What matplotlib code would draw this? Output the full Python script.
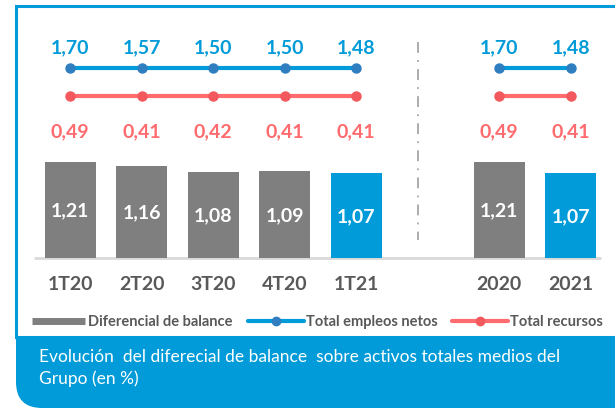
import matplotlib
matplotlib.use("Agg")
import matplotlib.pyplot as plt
import numpy as np
from matplotlib.patches import FancyBboxPatch, Rectangle
from matplotlib.lines import Line2D
from matplotlib.transforms import IdentityTransform

plt.rcParams['font.family'] = ['Lato', 'DejaVu Sans']

categories = ["1T20", "2T20", "3T20", "4T20", "1T21", "2020", "2021"]
positions = [0, 1, 2, 3, 4, 6, 7]
diferencial = [1.21, 1.16, 1.08, 1.09, 1.07, 1.21, 1.07]
empleos = [1.70, 1.57, 1.50, 1.50, 1.48, 1.70, 1.48]
recursos = [0.49, 0.41, 0.42, 0.41, 0.41, 0.49, 0.41]
caption = "Evolución  del diferecial de balance  sobre activos totales medios del\nGrupo (en %)"

GRAY = "#7F7F7F"
BLUE = "#009BD8"
RED = "#FF6B6E"
TXT = "#595959"
bar_colors = [GRAY, GRAY, GRAY, GRAY, BLUE, GRAY, BLUE]

W, H = 615, 410
fig = plt.figure(figsize=(W / 100, H / 100), dpi=100)

# caption band (pixel coords, origin bottom-left) + frame
band = FancyBboxPatch((16, 1), W + 40 - 16, 110,
                      boxstyle="round,pad=0,rounding_size=26", transform=IdentityTransform(),
                      facecolor=BLUE, edgecolor='none', zorder=-2)
fig.patches.append(band)
frame = Rectangle((16, H - 338), W - 16 + 5, 338 - 7, transform=IdentityTransform(),
                  facecolor='white', edgecolor=BLUE, linewidth=2.2, zorder=-1)
fig.patches.append(frame)

ax = fig.add_axes([0, 0, 1, 1])
ax.set_facecolor('none')
ppu_x = 71.5
x0 = 70.2
ax.set_xlim(-x0 / ppu_x, (W - x0) / ppu_x)
ppu_y = 79.6
base = 259
ax.set_ylim((base - H) / ppu_y, base / ppu_y)
ax.axis('off')

def py(v):
    return (base - v) / ppu_y

# baseline
ax.plot([-0.5, 7.42], [0, 0], color="#D9D9D9", lw=2, zorder=1, solid_capstyle='butt')

bars = ax.bar(positions, diferencial, width=0.71, color=bar_colors, zorder=2)
for x, v in zip(positions, diferencial):
    ax.text(x, v / 2, f"{v:.2f}".replace('.', ','), color='white', ha='center', va='center',
            fontsize=14, fontweight='bold', zorder=3)

# category labels
for x, c in zip(positions, categories):
    ax.text(x, py(284), c, color=TXT, ha='center', va='center', fontsize=14, fontweight='bold')

# lines (flat, drawn at fixed levels)
blue_level = py(69)
red_level = py(97)
groups = [(0, 5), (5, 7)]
for a, b in groups:
    xs = positions[a:b]
    ax.plot(xs, np.full(len(xs), blue_level), color=BLUE, lw=3, marker='o', ms=6.5,
            mfc="#2F7EC0", mec="#2F7EC0", zorder=3, solid_capstyle='round')
    ax.plot(xs, np.full(len(xs), red_level), color=RED, lw=3, marker='o', ms=6.5,
            mfc="#F2585C", mec="#F2585C", zorder=3, solid_capstyle='round')
for x, v in zip(positions, empleos):
    ax.text(x, py(48), f"{v:.2f}".replace('.', ','), color=BLUE, ha='center', va='center',
            fontsize=14, fontweight='bold')
for x, v in zip(positions, recursos):
    ax.text(x, py(132), f"{v:.2f}".replace('.', ','), color=RED, ha='center', va='center',
            fontsize=14, fontweight='bold')

# divider
ax.plot([4.87, 4.87], [py(43), py(241)], color="#A6A6A6", lw=1.3, linestyle=(0, (6, 4, 1, 4)))

# legend (manual, figure pixel positions)
def fx(p):
    return p / W
def fy(p):
    return (H - p) / H
ly = 322
fig.add_artist(Line2D([fx(32), fx(85)], [fy(ly), fy(ly)], color=GRAY, lw=5, solid_capstyle='butt'))
fig.text(fx(88), fy(ly), "Diferencial de balance", color=TXT, fontsize=10.5, fontweight='bold', va='center')
fig.add_artist(Line2D([fx(248), fx(304)], [fy(ly), fy(ly)], color=BLUE, lw=3, solid_capstyle='round'))
fig.add_artist(Line2D([fx(276)], [fy(ly)], marker='o', ms=6, color="#2F7EC0"))
fig.text(fx(306), fy(ly), "Total empleos netos", color=TXT, fontsize=10.5, fontweight='bold', va='center')
fig.add_artist(Line2D([fx(452), fx(508)], [fy(ly), fy(ly)], color=RED, lw=3, solid_capstyle='round'))
fig.add_artist(Line2D([fx(480)], [fy(ly)], marker='o', ms=6, color="#F2585C"))
fig.text(fx(510), fy(ly), "Total recursos", color=TXT, fontsize=10.5, fontweight='bold', va='center')

# caption
fig.text(fx(39), fy(349), caption, color='white', fontsize=12.5, va='top', linespacing=1.4)

fig.savefig("out.png", dpi=100)
